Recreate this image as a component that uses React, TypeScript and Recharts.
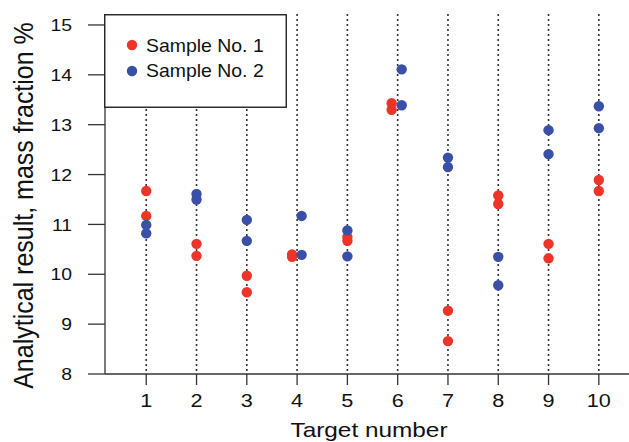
import React from "react";
import { ScatterChart, Scatter, XAxis, YAxis, CartesianGrid, Legend } from "recharts";

const targets = [1, 2, 3, 4, 5, 6, 7, 8, 9, 10];
const yTicks = [8, 9, 10, 11, 12, 13, 14, 15];
const sample1Values = [
  [11.67, 11.17], [10.61, 10.37], [9.97, 9.64], [10.4, 10.35], [10.75, 10.67],
  [13.43, 13.3], [9.27, 8.66], [11.58, 11.41], [10.61, 10.32], [11.89, 11.67],
];
const sample2Values = [
  [10.99, 10.82], [11.61, 11.5], [11.09, 10.67], [11.17, 10.39], [10.88, 10.36],
  [14.11, 13.39], [12.34, 12.15], [10.35, 9.78], [12.89, 12.41], [13.37, 12.93],
];
// small horizontal jitter used in the original to separate overlapping points
const sample1Shift = [0, 0, 0, -0.1, 0, -0.12, 0, 0, 0, 0];
const sample2Shift = [0, 0, 0, 0.09, 0, 0.08, 0, 0, 0, 0];
const seriesNames = ["Sample No. 1", "Sample No. 2"];
const RED = "#ee3328";
const BLUE = "#3a50a6";
const FONT = "'Liberation Sans', Arial, sans-serif";
const SX = 1.14;

const sample1Data = targets.flatMap((t, i) => sample1Values[i].map((v) => ({ x: t + sample1Shift[i], y: v })));
const sample2Data = targets.flatMap((t, i) => sample2Values[i].map((v) => ({ x: t + sample2Shift[i], y: v })));

const Dot = (color: string) => (props: any) => <circle cx={props.cx} cy={props.cy} r={5.2} fill={color} />;

const YTick = (props: any) => {
  const { y, payload } = props;
  return (
    <text transform={`translate(72,${y}) scale(${SX},1)`} textAnchor="end" dy="0.36em" fontSize={17} fontFamily={FONT} fill="#111">
      {payload.value}
    </text>
  );
};

const XTick = (props: any) => {
  const { x, payload } = props;
  return (
    <text transform={`translate(${x},406.5) scale(${SX},1)`} textAnchor="middle" fontSize={19} fontFamily={FONT} fill="#111">
      {payload.value}
    </text>
  );
};

const XTitle = () => (
  <text transform={`translate(369,436.5) scale(1.16,1)`} textAnchor="middle" fontSize={21} fontFamily={FONT} fill="#111">
    Target number
  </text>
);

const YTitle = () => (
  <text transform={`translate(33,205.5) scale(1.12,1) rotate(-90)`} textAnchor="middle" fontSize={25} fontFamily={FONT} fill="#111">
    Analytical result, mass fraction %
  </text>
);

const LegendBox = () => (
  <svg width={183} height={94} style={{ display: "block" }}>
    <rect x={0.75} y={0.75} width={181.5} height={92.5} fill="#fff" stroke="#222" strokeWidth={1.4} />
    {[RED, BLUE].map((c, i) => (
      <g key={i}>
        <circle cx={28} cy={31 + i * 26} r={5.2} fill={c} />
        <text transform={`translate(42,${38 + i * 25}) scale(1.08,1)`} fontSize={18} fontFamily={FONT} fill="#111">
          {seriesNames[i]}
        </text>
      </g>
    ))}
  </svg>
);

export default function App() {
  return (
    <div style={{ position: "absolute", left: 0, top: 0 }}>
      <ScatterChart width={629} height={442} margin={{ top: 14, right: 0, bottom: 0, left: 0 }}>
        <CartesianGrid
          horizontal={false}
          vertical={true}
          syncWithTicks={true}
          stroke="#333"
          strokeWidth={1.6}
          strokeDasharray="2 3"
        />
        <XAxis
          type="number"
          dataKey="x"
          domain={[0.18, 10.6]}
          ticks={targets}
          allowDataOverflow
          height={68}
          tickSize={11}
          tick={<XTick />}
          stroke="#333"
          strokeWidth={1.3}
          label={<XTitle />}
        />
        <YAxis
          type="number"
          dataKey="y"
          domain={[8, 15.22]}
          ticks={yTicks}
          allowDataOverflow
          width={105}
          tickSize={17}
          tick={<YTick />}
          stroke="#333"
          strokeWidth={1.3}
          label={<YTitle />}
        />
        <Legend
          layout="horizontal"
          verticalAlign="middle"
          content={() => <LegendBox />}
          wrapperStyle={{ position: "absolute", left: 104, top: 14, width: 183, height: 94 }}
        />
        <Scatter name={seriesNames[0]} data={sample1Data} fill={RED} shape={Dot(RED)} isAnimationActive={false} />
        <Scatter name={seriesNames[1]} data={sample2Data} fill={BLUE} shape={Dot(BLUE)} isAnimationActive={false} />
      </ScatterChart>
    </div>
  );
}
